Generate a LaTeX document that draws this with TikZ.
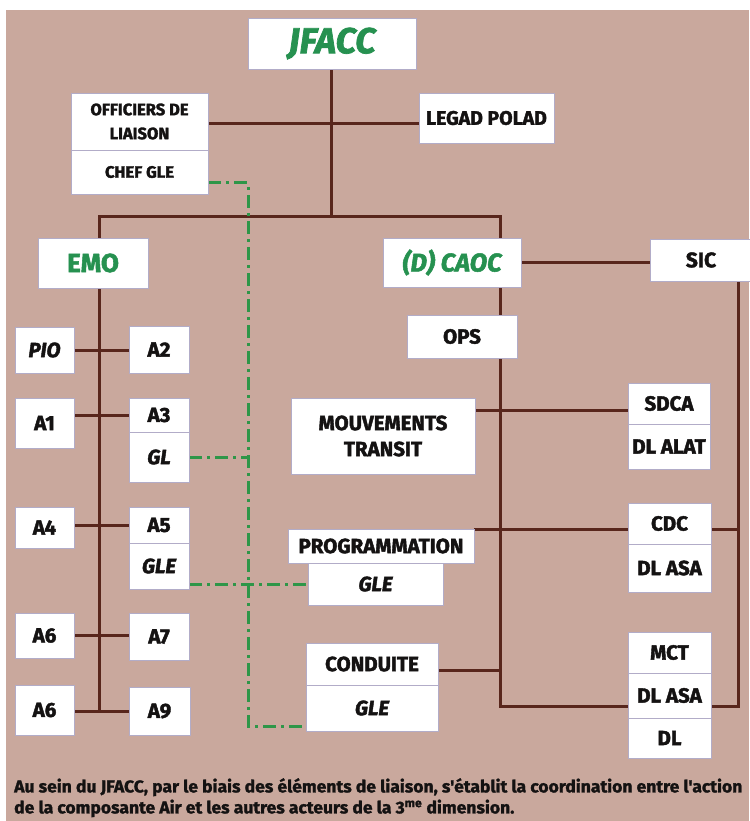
\documentclass[tikz,border=0pt]{standalone}
\usepackage{fontspec}
\setmainfont{Fira Sans}[BoldFeatures={FakeBold=2}, BoldItalicFeatures={FakeBold=2}]
\newfontfamily\capfont{Fira Sans}[FakeStretch=1.03, BoldFeatures={FakeBold=1.5}]
\usetikzlibrary{calc}

\definecolor{paper}{RGB}{201,168,157}
\definecolor{link}{RGB}{88,38,28}
\definecolor{liaison}{RGB}{46,150,72}
\definecolor{cellrule}{RGB}{178,172,200}
\definecolor{ink}{RGB}{20,18,18}
\definecolor{headgreen}{RGB}{38,145,80}

\pgfdeclarelayer{paperlayer}
\pgfdeclarelayer{linklayer}
\pgfsetlayers{paperlayer,linklayer,main}

\tikzset{
  cell/.style={draw=cellrule, line width=0.8pt, fill=white, inner sep=0pt, outer sep=0pt,
    text=ink, align=center, font=\fontsize{20.5}{25}\selectfont\bfseries},
  small/.style={font=\fontsize{16.5}{24}\selectfont\bfseries},
  head/.style={text=headgreen, font=\fontsize{26}{30}\selectfont\bfseries},
  top/.style={text=headgreen, font=\fontsize{36}{40}\selectfont\bfseries\itshape},
  it/.style={font=\fontsize{20.5}{25}\selectfont\bfseries\itshape},
  orgline/.style={draw=link, line width=3pt},
  gleline/.style={draw=liaison, line width=3pt, dash pattern=on 13pt off 5pt on 3pt off 5pt}
}

% box from corner (x1,y1) to corner (x2,y2), y measured downwards
\newcommand{\orgcell}[7][]{%
  \node[cell,#1,minimum width={#5-#3},minimum height={#6-#4}] (#2)
    at ({(#3+#5)/2},{(#4+#6)/2}) {#7};}

\begin{document}
\begin{tikzpicture}[x=1pt,y=-1pt]
\useasboundingbox (0,0) rectangle (749,821);
\begin{pgfonlayer}{paperlayer}
  \fill[paper] (6,10) rectangle (749,821);
\end{pgfonlayer}

% command level
\orgcell[top]{jfacc}{248}{18}{416}{69}{JFACC}
\orgcell[small]{off}{71}{93}{208}{150}{OFFICIERS DE\\LIAISON}
\orgcell[small]{chef}{71}{150}{208}{194}{CHEF GLE}
\orgcell[font=\fontsize{19.5}{24}\selectfont\bfseries]{legad}{419}{93}{554}{143}{LEGAD POLAD}

% EMO branch
\orgcell[head]{emo}{38}{238}{148}{288}{EMO}
\orgcell[it]{pio}{15}{327}{74}{373}{PIO}
\orgcell{a2}{129}{326}{189}{373}{A2}
\orgcell{a1}{15}{398}{74}{448}{A1}
\orgcell{a3}{129}{398}{189}{432}{A3}
\orgcell[it]{gl}{129}{432}{189}{482}{GL}
\orgcell{a4}{15}{507}{74}{548}{A4}
\orgcell{a5}{129}{507}{189}{543}{A5}
\orgcell[it]{gle1}{129}{543}{189}{589}{GLE}
\orgcell{a6}{15}{613}{74}{658}{A6}
\orgcell{a7}{129}{613}{189}{660}{A7}
\orgcell{a6b}{15}{685}{74}{735}{A6}
\orgcell{a9}{129}{687}{190}{735}{A9}

% CAOC branch
\orgcell[head,font=\fontsize{25.5}{30}\selectfont\bfseries\itshape]{caoc}{383}{238}{521}{287}{(D) CAOC}
\orgcell[font=\fontsize{21}{25}\selectfont\bfseries]{sic}{650}{239}{752}{281}{SIC}
\orgcell{ops}{407}{315}{517}{358}{OPS}
\orgcell[font=\fontsize{20.5}{26}\selectfont\bfseries]{mt}{291}{398}{475}{474}{MOUVEMENTS\\TRANSIT}
\orgcell{sdca}{628}{383}{710}{424}{SDCA}
\orgcell{dlalat}{628}{424}{710}{469}{DL ALAT}
\orgcell{prog}{288}{529}{474}{563}{PROGRAMMATION}
\orgcell[it]{gle2}{308}{563}{443}{605}{GLE}
\orgcell{cond}{306}{643}{438}{685}{CONDUITE}
\orgcell[it]{gle3}{306}{685}{438}{731}{GLE}
\orgcell{cdc}{628}{503}{711}{544}{CDC}
\orgcell{dlasa1}{628}{544}{711}{592}{DL ASA}
\orgcell{mct}{628}{632}{711}{673}{MCT}
\orgcell{dlasa2}{628}{673}{711}{718}{DL ASA}
\orgcell{dl}{628}{718}{711}{758}{DL}

% routing points
\coordinate (busM) at (331,216);
\coordinate (busL) at (99,216);
\coordinate (busR) at (500,216);
\coordinate (legY) at (331,124);
\coordinate (spine) at (99,711);
\coordinate (opsB) at (500,706);
\coordinate (mtY) at (500,410);
\coordinate (condY) at (500,670);
\coordinate (sicB) at (738,706);
\coordinate (gTop) at (248,183);
\coordinate (gBot) at (248,726);

\begin{pgfonlayer}{linklayer}
  % hierarchy
  \draw[orgline] (jfacc.south -| busM) -- (busM);
  \draw[orgline] (off.east |- legY) -- (legad.west |- legY);
  \draw[orgline] (emo.north -| busL) -- (busL) -- (busR) -- (caoc.north -| busR);
  \draw[orgline] (emo.south -| spine) -- (spine);
  \draw[orgline] (pio.east) -- (pio.east -| a2.west);
  \draw[orgline] (a1.east |- a3.west) -- (a3.west);
  \draw[orgline] (a4.east |- a5.west) -- (a5.west);
  \draw[orgline] (a6.east) -- (a6.east -| a7.west);
  \draw[orgline] (a6b.east |- a9.west) -- (a9.west);
  \draw[orgline] (caoc.east) -- (caoc.east -| sic.west);
  \draw[orgline] (caoc.south -| opsB) -- (opsB) -- (dlasa2.west |- opsB);
  \draw[orgline] (sic.south -| sicB) -- (sicB) -- (dlasa2.east |- sicB);
  \draw[orgline] (mt.east |- mtY) -- (sdca.west |- mtY);
  \draw[orgline] (prog.north east) -- (prog.north east -| cdc.west);
  \draw[orgline] (cdc.east |- prog.north east) -- (sicB |- prog.north east);
  \draw[orgline] (cond.east |- condY) -- (condY);
  % liaison network
  \draw[gleline] (chef.east |- gTop) -- (gTop) -- (gBot) -- (gle3.west |- gBot);
  \draw[gleline] (gl.east) -- (gl.east -| gTop);
  \draw[gleline] (gle1.east |- gle2.west) -- (gle2.west);
\end{pgfonlayer}

% caption
\node[anchor=north west, align=left, inner sep=0pt, text=ink,
      font=\capfont\fontsize{17}{21}\selectfont\bfseries] (caption) at (14,778)
  {Au sein du JFACC, par le biais des éléments de liaison, s'établit la coordination entre l'action\\
   de la composante Air et les autres acteurs de la 3\textsuperscript{me} dimension.};
\end{tikzpicture}
\end{document}
